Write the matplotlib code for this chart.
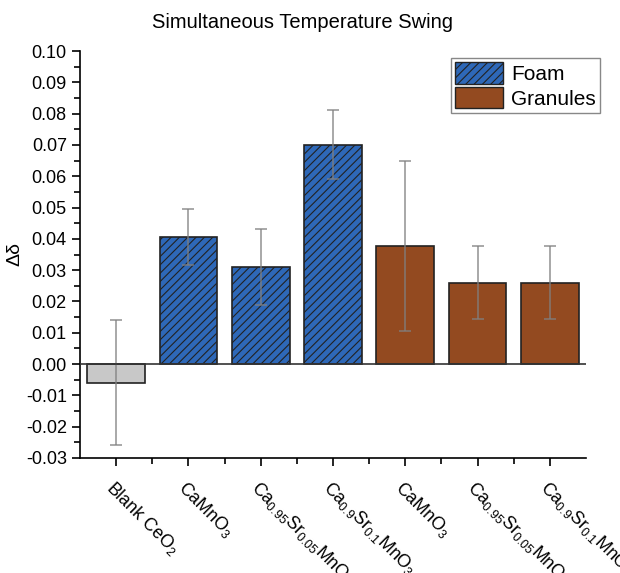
import numpy as np
import matplotlib
matplotlib.use("Agg")
import matplotlib.pyplot as plt
from matplotlib.ticker import MultipleLocator, FixedLocator
from matplotlib.patches import Patch

plt.rcParams['font.family'] = ['Liberation Sans', 'DejaVu Sans']
plt.rcParams['mathtext.fontset'] = 'custom'
plt.rcParams['mathtext.rm'] = 'Liberation Sans'
plt.rcParams['mathtext.it'] = 'Liberation Sans:italic'
plt.rcParams['hatch.color'] = '#1a2f55'
plt.rcParams['hatch.linewidth'] = 0.8

# data
labels = ['Blank CeO$_2$', 'CaMnO$_3$', 'Ca$_{0.95}$Sr$_{0.05}$MnO$_3$',
          'Ca$_{0.9}$Sr$_{0.1}$MnO$_3$', 'CaMnO$_3$',
          'Ca$_{0.95}$Sr$_{0.05}$MnO$_3$', 'Ca$_{0.9}$Sr$_{0.1}$MnO$_3$']
groups = ['blank', 'foam', 'foam', 'foam', 'granules', 'granules', 'granules']
values = [-0.006, 0.0405, 0.031, 0.070, 0.0378, 0.026, 0.026]
errors = [0.020, 0.009, 0.012, 0.011, 0.0272, 0.0116, 0.0116]

colors = {'blank': '#c8c8c8', 'foam': '#2e68b8', 'granules': '#934a20'}
hatches = {'blank': None, 'foam': '////', 'granules': None}

fig = plt.figure(figsize=(6.2, 5.73), dpi=100)
ax = fig.add_axes([80/620, 1 - 458/573, 506/620, 407/573])

x = np.arange(len(values))
for i in x:
    g = groups[i]
    ax.bar(x[i], values[i], width=0.8, color=colors[g], hatch=hatches[g],
           edgecolor='#222222', linewidth=1.2, zorder=2)
ax.errorbar(x, values, yerr=errors, fmt='none', ecolor='#808080', alpha=0.8,
            elinewidth=1.2, capsize=4, capthick=1.2, zorder=3)
ax.axhline(0, color='#333333', linewidth=1.2, zorder=4)

ax.set_xlim(-0.5, 6.5)
ax.set_ylim(-0.03, 0.10)
ax.yaxis.set_major_locator(MultipleLocator(0.01))
ax.yaxis.set_minor_locator(MultipleLocator(0.005))
ax.set_yticklabels([f'{v:.2f}' for v in ax.get_yticks()])
ax.set_xticks(x)
ax.xaxis.set_minor_locator(FixedLocator(x[:-1] + 0.5))
ax.set_xticklabels(labels, rotation=-45, ha='left', rotation_mode='anchor')
ax.tick_params(axis='both', which='major', direction='out', length=6, width=1.2,
               labelsize=13)
ax.tick_params(axis='both', which='minor', direction='out', length=4, width=1.2)
ax.tick_params(axis='x', which='major', pad=8, labelsize=12.8)

for s in ['top', 'right']:
    ax.spines[s].set_visible(False)
for s in ['left', 'bottom']:
    ax.spines[s].set_linewidth(1.2)

ax.set_ylabel('Δδ', fontsize=14, labelpad=2)
fig.text(303/620, 1 - 22/573, 'Simultaneous Temperature Swing', ha='center',
         va='center', fontsize=14.5)

handles = [Patch(facecolor=colors['foam'], hatch='////', edgecolor='#222222', label='Foam'),
           Patch(facecolor=colors['granules'], edgecolor='#222222', label='Granules')]
leg = fig.legend(handles=handles, loc='upper right', bbox_to_anchor=(600/620, 1 - 58/573),
                 fontsize=15, fancybox=False, edgecolor='#888888', framealpha=1,
                 handlelength=2.3, handleheight=1.2, borderpad=0.2, labelspacing=0.15,
                 handletextpad=0.4, borderaxespad=0)
leg.get_frame().set_linewidth(1.0)

fig.savefig('out.png', dpi=100)
